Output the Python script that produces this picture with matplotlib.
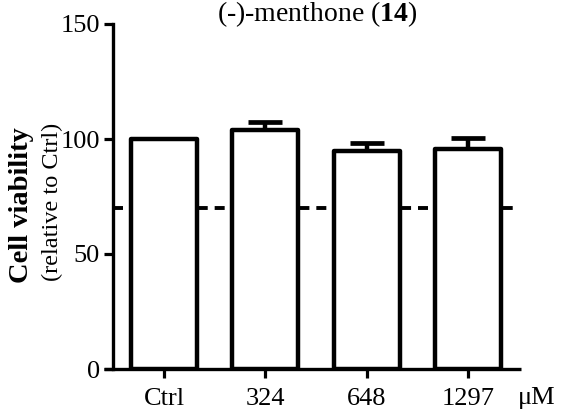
import matplotlib
matplotlib.use("Agg")
import matplotlib.pyplot as plt
from matplotlib.lines import Line2D

# Data
categories = ["Ctrl", "324", "648", "1297"]
viability = [100.0, 103.8, 94.6, 95.5]
sem = [0.0, 3.8, 3.8, 4.9]
threshold = 70.0
y_ticks = [0, 50, 100, 150]

plt.rcParams["font.family"] = ["Liberation Serif", "DejaVu Serif"]
plt.rcParams["lines.scale_dashes"] = False
plt.rcParams["mathtext.fontset"] = "custom"
plt.rcParams["mathtext.rm"] = "Liberation Serif"
plt.rcParams["mathtext.bf"] = "Liberation Serif:bold"

W, H = 563, 411
fig = plt.figure(figsize=(W / 100, H / 100), dpi=100)
left_px, right_px, top_px, bottom_px = 113, 521, 24, 369
ax = fig.add_axes([left_px / W, 1 - bottom_px / H,
                   (right_px - left_px) / W, (bottom_px - top_px) / H])

x = list(range(len(categories)))
lw = 3.2

# Reference level behind the bars
ax.plot([-0.503, 3.48], [threshold, threshold], color="black", lw=2.8,
        dashes=(7.2, 5.0), dash_capstyle="butt", zorder=1, clip_on=False)

bars = ax.bar(x, viability, width=0.65, color="white", edgecolor="black",
              linewidth=lw, zorder=2)
for b in bars:
    b.set_joinstyle("round")

# Upper error bars only
for xi, v, e in zip(x, viability, sem):
    if e > 0:
        ax.errorbar([xi], [v], yerr=[[0], [e]], fmt="none", ecolor="black",
                    elinewidth=lw, capsize=12, capthick=3.4, zorder=1.5)

ax.set_xlim(-0.503, 3.52)
ax.set_ylim(0, 150)

for s in ["top", "right", "bottom"]:
    ax.spines[s].set_visible(False)
ax.spines["left"].set_linewidth(2.4)
ax.spines["left"].set_capstyle("projecting")

# Bottom axis line reaching past the y axis to the tick ends
ax.add_line(Line2D([-9 / (right_px - left_px), 1], [0, 0], transform=ax.transAxes,
                   color="black", lw=2.4, clip_on=False, solid_capstyle="butt"))

ax.set_yticks(y_ticks)
ax.set_yticklabels([str(t) for t in y_ticks])
ax.set_xticks(x)
ax.set_xticklabels(categories)
ax.tick_params(axis="both", length=6.5, width=2.3, labelsize=19, pad=3,
               color="black")
ax.tick_params(axis="x", pad=7.5)

fig.text(537 / W, 1 - 398 / H, "\u03bcM", ha="center", va="center", fontsize=19)

fig.text(317 / W, 1 - 21 / H, "(-)-menthone ($\\mathbf{14}$)", ha="center",
         va="baseline", fontsize=20)

fig.text(22 / W, 1 - 205 / H, "Cell viability", rotation=90, ha="center",
         va="center", fontsize=20.5, fontweight="bold")
fig.text(52 / W, 1 - 202 / H, "(relative to Ctrl)", rotation=90, ha="center",
         va="center", fontsize=17.5)

fig.savefig("out.png", dpi=100)
